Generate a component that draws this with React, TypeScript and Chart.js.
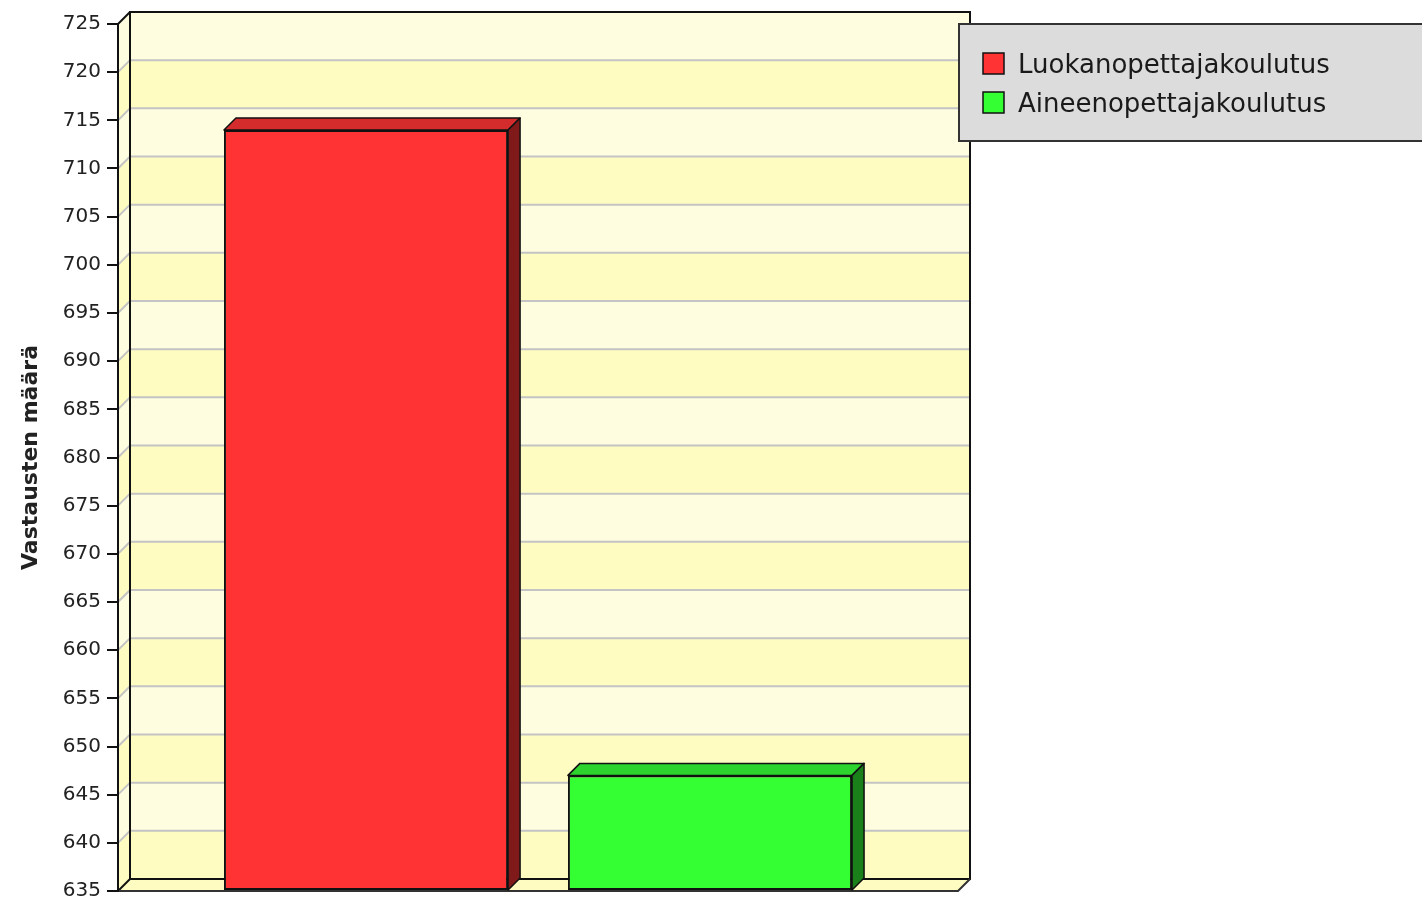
import React, { useEffect, useRef } from "react";
import { Chart, registerables } from "chart.js";

Chart.register(...registerables);

// ---- data ----
const categories = [""];
const seriesLabels = ["Luokanopettajakoulutus", "Aineenopettajakoulutus"];
const luokanValues = [714];
const aineenValues = [647];
const yMin = 635;
const yMax = 725;
const yStep = 5;
const yTitle = "Vastausten määrä";

// ---- styles ----
const frontColors = ["#FF3333", "#33FF33"];
const topColors = ["#D42C2C", "#2DD42D"];
const sideColors = ["#801A1A", "#1A801A"];
const DEPTH = 12;
const bandLight = "#FEFDE0";
const bandDark = "#FFFCC2";

const threeDPlugin = {
  id: "threeD",
  beforeDraw(chart: any) {
    const { ctx, chartArea, scales } = chart;
    const { left: L, right: R, top: T, bottom: B } = chartArea;
    const y = scales.y;
    const d = DEPTH;
    ctx.save();
    let i = 0;
    for (let v = yMin; v < yMax; v += yStep, i++) {
      const y0 = y.getPixelForValue(v);
      const y1 = y.getPixelForValue(v + yStep);
      ctx.fillStyle = i % 2 === 0 ? bandDark : bandLight;
      ctx.fillRect(L + d, y1 - d, R - L, y0 - y1);
      ctx.beginPath();
      ctx.moveTo(L, y0);
      ctx.lineTo(L + d, y0 - d);
      ctx.lineTo(L + d, y1 - d);
      ctx.lineTo(L, y1);
      ctx.closePath();
      ctx.fill();
    }
    // floor
    ctx.fillStyle = bandDark;
    ctx.beginPath();
    ctx.moveTo(L, B);
    ctx.lineTo(L + d, B - d);
    ctx.lineTo(R + d, B - d);
    ctx.lineTo(R, B);
    ctx.closePath();
    ctx.fill();
    // gridlines
    ctx.strokeStyle = "#C4C4C4";
    ctx.lineWidth = 2;
    for (let v = yMin + yStep; v < yMax; v += yStep) {
      const py = y.getPixelForValue(v);
      ctx.beginPath();
      ctx.moveTo(L, py);
      ctx.lineTo(L + d, py - d);
      ctx.lineTo(R + d, py - d);
      ctx.stroke();
    }
    // outlines
    ctx.strokeStyle = "#111";
    ctx.lineWidth = 2;
    ctx.strokeRect(L + d, T - d, R - L, B - T);
    ctx.beginPath();
    ctx.moveTo(L, T);
    ctx.lineTo(L + d, T - d);
    ctx.stroke();
    ctx.beginPath();
    ctx.moveTo(L, B);
    ctx.lineTo(L + d, B - d);
    ctx.stroke();
    ctx.strokeStyle = "#333";
    ctx.beginPath();
    ctx.moveTo(L - 11, B);
    ctx.lineTo(R, B);
    ctx.lineTo(R + d, B - d);
    ctx.stroke();
    ctx.restore();
  },
  afterDatasetsDraw(chart: any) {
    const { ctx, chartArea } = chart;
    const d = DEPTH;
    ctx.save();
    ctx.lineWidth = 1.5;
    ctx.strokeStyle = "#111";
    ctx.lineJoin = "round";
    chart.data.datasets.forEach((ds: any, di: number) => {
      const meta = chart.getDatasetMeta(di);
      meta.data.forEach((el: any) => {
        const p = el.getProps(["x", "y", "base", "width"], true);
        const x = p.x, y = p.y, width = p.width;
        const base = Math.min(p.base, chartArea.bottom);
        const l = x - width / 2;
        const r = x + width / 2;
        // top face
        ctx.fillStyle = topColors[di];
        ctx.beginPath();
        ctx.moveTo(l, y);
        ctx.lineTo(l + d, y - d);
        ctx.lineTo(r + d, y - d);
        ctx.lineTo(r, y);
        ctx.closePath();
        ctx.fill();
        ctx.stroke();
        // side face
        ctx.fillStyle = sideColors[di];
        ctx.beginPath();
        ctx.moveTo(r, y);
        ctx.lineTo(r + d, y - d);
        ctx.lineTo(r + d, base - d);
        ctx.lineTo(r, base);
        ctx.closePath();
        ctx.fill();
        ctx.stroke();
      });
    });
    ctx.restore();
  },
  afterDraw(chart: any) {
    const { ctx } = chart;
    ctx.save();
    // legend box
    const bx = 959, by = 24, bw = 470, bh = 117;
    ctx.fillStyle = "#DCDCDC";
    ctx.fillRect(bx, by, bw, bh);
    ctx.strokeStyle = "#333";
    ctx.lineWidth = 2;
    ctx.strokeRect(bx, by, bw, bh);
    ctx.font = "26px 'DejaVu Sans'";
    ctx.textBaseline = "alphabetic";
    ctx.textAlign = "left";
    chart.data.datasets.forEach((ds: any, i: number) => {
      const sy = 53 + i * 39;
      ctx.fillStyle = ds.backgroundColor;
      ctx.fillRect(983, sy, 21, 21);
      ctx.strokeStyle = "#111";
      ctx.lineWidth = 1.5;
      ctx.strokeRect(983, sy, 21, 21);
      ctx.fillStyle = "#1a1a1a";
      ctx.fillText(ds.label, 1018, sy + 20);
    });
    ctx.restore();
  },
};

export default function App() {
  const ref = useRef<HTMLCanvasElement>(null);
  useEffect(() => {
    if (!ref.current) return;
    const chart = new Chart(ref.current, {
      type: "bar",
      data: {
        labels: categories,
        datasets: [
          {
            label: seriesLabels[0],
            data: luokanValues,
            base: yMin,
            backgroundColor: frontColors[0],
            borderColor: "#111",
            borderWidth: 2,
            borderSkipped: false,
          },
          {
            label: seriesLabels[1],
            data: aineenValues,
            base: yMin,
            backgroundColor: frontColors[1],
            borderColor: "#111",
            borderWidth: 2,
            borderSkipped: false,
          },
        ],
      },
      options: {
        responsive: false,
        animation: false,
        categoryPercentage: 0.819,
        barPercentage: 0.826,
        layout: { padding: { top: 24, right: 464, bottom: 14, left: 0 } },
        plugins: { legend: { display: false }, tooltip: { enabled: false } },
        scales: {
          x: { display: false },
          y: {
            min: yMin,
            max: yMax,
            afterFit: (s: any) => {
              s.width = 118;
              s.paddingTop = 0;
              s.paddingBottom = 0;
            },
            ticks: {
              stepSize: yStep,
              padding: 6,
              color: "#222",
              font: { family: "'DejaVu Sans'", size: 20 },
            },
            grid: {
              drawOnChartArea: false,
              drawTicks: true,
              tickLength: 11,
              color: "#111",
              lineWidth: 2,
            },
            border: { display: true, color: "#111", width: 2 },
            title: {
              display: true,
              text: yTitle,
              color: "#222",
              font: { family: "'DejaVu Sans'", size: 22, weight: "bold" },
              padding: { top: 18, bottom: 0 },
            },
          },
        },
      },
      plugins: [threeDPlugin],
    });
    return () => chart.destroy();
  }, []);
  return (
    <div style={{ position: "absolute", left: 0, top: 0, width: 1422, height: 905, background: "#fff" }}>
      <canvas ref={ref} width={1422} height={905} style={{ display: "block" }} />
    </div>
  );
}
